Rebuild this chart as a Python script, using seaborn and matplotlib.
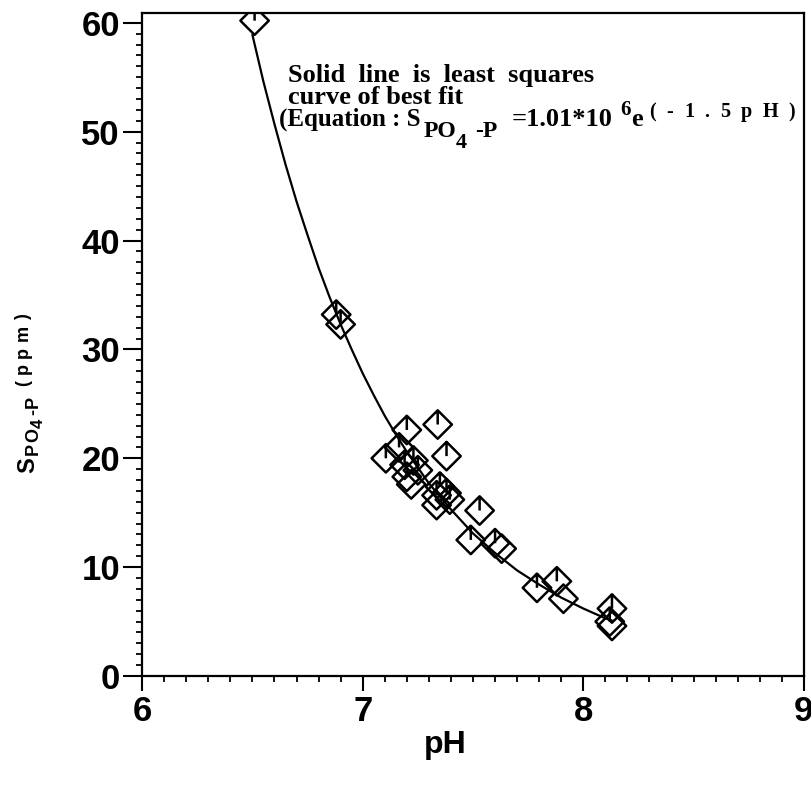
import matplotlib
matplotlib.use("Agg")
import matplotlib.pyplot as plt
import seaborn as sns
from matplotlib.path import Path
from matplotlib.ticker import MultipleLocator
from matplotlib.transforms import IdentityTransform

# measured points (pH, soluble PO4-P in ppm)
ph = [6.51, 6.88, 6.90, 7.105, 7.165, 7.19, 7.20, 7.20, 7.22, 7.23, 7.25,
      7.34, 7.38, 7.335, 7.35, 7.335, 7.38, 7.395, 7.53, 7.49, 7.60, 7.63,
      7.79, 7.88, 7.91, 8.13, 8.12, 8.13]
s_po4 = [60.2, 33.2, 32.3, 20.0, 21.0, 19.4, 22.6, 18.3, 17.6, 19.8, 18.9,
         23.1, 20.2, 16.6, 17.4, 15.7, 16.8, 16.2, 15.2, 12.5, 12.2, 11.7,
         8.1, 8.7, 7.1, 6.2, 5.0, 4.6]
has_bar = [True, True, True, True, True, True, True, True, False, True, True,
           True, True, True, True, False, True, True, True, True, True, False,
           True, True, False, True, True, False]

# least squares curve as drawn
fit_ph = [6.50, 6.55, 6.60, 6.65, 6.70, 6.75, 6.80, 6.85, 6.90, 6.95, 7.00,
          7.05, 7.10, 7.15, 7.20, 7.30, 7.40, 7.50, 7.60, 7.70, 7.80, 7.90,
          8.00, 8.10, 8.13]
fit_s = [58.9, 54.6, 50.7, 47.0, 43.6, 40.5, 37.5, 34.8, 32.3, 30.0, 27.8,
         25.8, 23.9, 22.2, 20.6, 17.7, 15.3, 13.1, 11.3, 9.7, 8.4, 7.2,
         6.2, 5.3, 5.1]

x_ticks = [6, 7, 8, 9]
y_ticks = [0, 10, 20, 30, 40, 50, 60]

note_lines = ["Solid  line  is  least  squares", "curve of best fit"]
# (text, font size, gap in px before, baseline offset in px, letter spacing)
equation_parts = [("(Equation : S", 18, 0, 0, 0), ("PO", 17, 3, -11, 0),
                  ("4", 16, 0, -22, 0), ("-P", 17, 8, -11, 0),
                  ("=1.01*10", 19, 14, 0, 0), ("6", 15, 8, 11, 0),
                  ("e", 19, 0, 0, 0), ("(-1.5pH)", 14.5, 7, 9, 10.5)]
y_label_parts = [("S", 17, 0, 0, 0), ("PO", 13, 2, -4, 1),
                 ("4", 12, 0, -9, 0), ("-P", 13, 4, -4, 1),
                 ("(ppm)", 13, 10, 6, 5.5)]

sns.set_theme(style="ticks")
plt.rcParams["font.family"] = ["Liberation Sans", "DejaVu Sans"]
plt.rcParams["font.weight"] = "bold"
plt.rcParams["text.color"] = "black"
plt.rcParams["axes.labelcolor"] = "black"
plt.rcParams["xtick.color"] = "black"
plt.rcParams["ytick.color"] = "black"

M, L, C = Path.MOVETO, Path.LINETO, Path.CLOSEPOLY
diamond_bar = Path([(0, 1), (1, 0), (0, -1), (-1, 0), (0, 1), (0, 1), (0, 0)],
                   [M, L, L, L, C, M, L])
diamond = Path([(0, 1), (1, 0), (0, -1), (-1, 0), (0, 1)], [M, L, L, L, C])

fig = plt.figure(figsize=(8.12, 7.9), dpi=100)
ax = fig.add_axes([0.175, 0.1443, 0.815, 0.8392])
renderer = fig.canvas.get_renderer()


def chain_text(parts, x0, y0, family, rotated=False):
    """Write text pieces one after another, in display pixels."""
    pos = 0.0
    for txt, size, gap, rise, track in parts:
        pos += gap
        chunks = list(txt) if track else [txt]
        for ch in chunks:
            if rotated:
                xy = (x0 - rise, y0 + pos)
            else:
                xy = (x0 + pos, y0 + rise)
            t = fig.text(*xy, ch, fontsize=size, family=family,
                         fontweight="bold", ha="left", va="baseline",
                         rotation=90 if rotated else 0, rotation_mode="anchor",
                         transform=IdentityTransform())
            bb = t.get_window_extent(renderer)
            pos += (bb.height if rotated else bb.width) + track
        pos -= track


sns.lineplot(x=fit_ph, y=fit_s, sort=False, color="black", lw=1.6, ax=ax)

bar_x = [p for p, b in zip(ph, has_bar) if b]
bar_y = [v for v, b in zip(s_po4, has_bar) if b]
plain_x = [p for p, b in zip(ph, has_bar) if not b]
plain_y = [v for v, b in zip(s_po4, has_bar) if not b]
for xs, ys, mk in [(bar_x, bar_y, diamond_bar), (plain_x, plain_y, diamond)]:
    sns.scatterplot(x=xs, y=ys, marker=mk, s=420, color="black",
                    facecolor="none", edgecolor="black", linewidth=1.8,
                    zorder=3, ax=ax)

ax.set_xlim(6, 9)
ax.set_ylim(0, 60.9)
ax.set_xticks(x_ticks)
ax.set_yticks(y_ticks)
ax.xaxis.set_minor_locator(MultipleLocator(0.1))
ax.yaxis.set_minor_locator(MultipleLocator(1))
ax.tick_params(axis="both", which="major", direction="out", width=1.5,
               labelsize=25)
ax.tick_params(axis="x", which="major", length=11, pad=3)
ax.tick_params(axis="y", which="major", length=14, pad=2)
ax.tick_params(axis="both", which="minor", direction="out", width=1.3,
               length=4)
for lab in ax.get_xticklabels() + ax.get_yticklabels():
    lab.set_fontweight("bold")
for side in ["left", "right", "top", "bottom"]:
    ax.spines[side].set_visible(True)
    ax.spines[side].set_linewidth(1.6)
    ax.spines[side].set_color("black")

ax.set_xlabel("pH", fontsize=23, fontweight="bold")
ax.xaxis.set_label_coords(0.458, -0.104)
ax.xaxis.label.set_va("center")
ax.set_ylabel("")

note_kw = dict(family="Liberation Serif", fontweight="bold", va="baseline",
               ha="left", fontsize=19)
ax.text(6.66, 54.56, note_lines[0], **note_kw)
ax.text(6.66, 52.54, note_lines[1], **note_kw)

# equation line and y label built piece by piece like the original
x_px, y_px = ax.transData.transform((6.62, 50.52))
chain_text(equation_parts, x_px, y_px, "Liberation Serif")
chain_text(y_label_parts, 34, 790 - 473, "Liberation Sans", rotated=True)

fig.savefig("out.png", dpi=100)
